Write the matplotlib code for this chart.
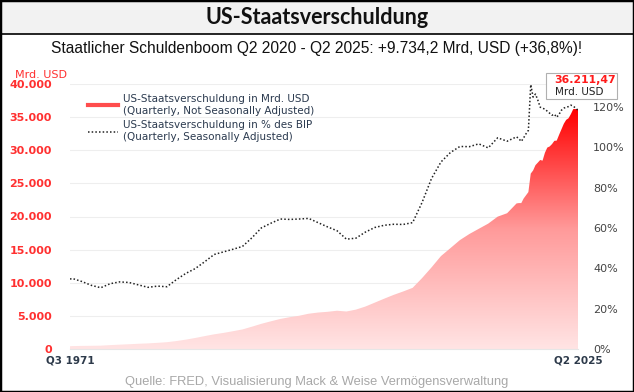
import numpy as np
import matplotlib.pyplot as plt
from matplotlib.colors import LinearSegmentedColormap
from matplotlib.lines import Line2D
from matplotlib.patches import Rectangle

# Zeitpunkte: Q3 1971, danach jeweils Q4 bis 2018, ab 2019 quartalsweise
periods = (["1971Q3"] + [f"{y}Q4" for y in range(1971, 2019)]
           + [f"{y}Q{q}" for y in range(2019, 2025) for q in range(1, 5)]
           + ["2025Q1", "2025Q2"])

# Staatsschulden in Mrd. USD
debt = [414, 437, 468, 484, 504, 587, 654, 718, 789, 845, 930,
        1028, 1197, 1411, 1663, 1945, 2214, 2431, 2684, 2953, 3365,
        3802, 4177, 4536, 4801, 5018, 5324, 5503, 5614, 5776, 5662,
        5943, 6405, 6998, 7596, 8170, 8680, 9229, 10700, 12311, 14025,
        15223, 16433, 17352, 18141, 18922, 19977, 20493, 21974,
        22028, 22023, 22719, 23201, 23686, 26477, 26946, 27748,
        28133, 28529, 28428, 29617, 30401, 30569, 30929, 31420,
        31458, 32332, 33167, 34001, 34587, 34832, 35465, 36218,
        36215, 36211.47]

# Schulden in % des BIP
pct = [34.7, 35.0, 33.5, 31.6, 30.4, 32.4, 33.3, 33.0, 31.8, 30.6, 31.2,
       30.9, 34.4, 37.5, 39.9, 43.3, 46.9, 48.2, 49.5, 50.9, 55.2,
       60.1, 62.4, 64.5, 64.3, 64.5, 64.8, 62.7, 60.6, 58.7, 54.5,
       55.0, 58.0, 60.3, 61.4, 61.9, 61.8, 62.7, 72.7, 84.6, 92.8,
       97.5, 100.5, 100.4, 101.8, 99.8, 104.8, 103.1, 105.3,
       104.3, 103.0, 104.8, 106.8, 108.5, 131.2, 125.0, 126.5,
       123.5, 120.0, 119.5, 119.0, 118.0, 117.0, 116.0, 116.5,
       115.0, 116.5, 118.5, 119.5, 120.0, 120.3, 121.0, 120.5,
       119.5, 118.5]

left_ticks = [0, 5000, 10000, 15000, 20000, 25000, 30000, 35000, 40000]
right_ticks = [0, 20, 40, 60, 80, 100, 120]
x_labels = ["Q3 1971", "Q2 2025"]

x = np.array([int(p[:4]) + (int(p[-1]) - 1) / 4 for p in periods])

W, H = 634, 392
fig = plt.figure(figsize=(W / 100, H / 100), dpi=100)

# Rahmen und Titelband
fig.add_artist(Rectangle((0, 1 - 34 / H), 1, 34 / H, transform=fig.transFigure,
                         facecolor="#f2f2f2", edgecolor="none"))
fig.add_artist(Line2D([0, 1], [1 - 34 / H] * 2, transform=fig.transFigure,
                      color="black", lw=1.2))
fig.add_artist(Rectangle((0, 0), 1, 1, transform=fig.transFigure,
                         fill=False, edgecolor="black", lw=2.5))
fig.text(0.5, 1 - 17 / H, "US-Staatsverschuldung", ha="center", va="center",
         family="Lato", weight="bold", fontsize=15.5, color="#111")
fig.text(0.5, 1 - 48 / H,
         "Staatlicher Schuldenboom Q2 2020 - Q2 2025: +9.734,2 Mrd, USD (+36,8%)!",
         ha="center", va="center", family="Liberation Sans", fontsize=11.2,
         color="#111")
fig.text(0.5, 1 - 382 / H,
         "Quelle: FRED, Visualisierung Mack & Weise Vermögensverwaltung",
         ha="center", va="center", family="Liberation Sans",
         fontsize=9.3, color="#a8a8a8")

ax = fig.add_axes([70 / W, 43 / H, 508 / W, 265 / H])
ax2 = ax.twinx()

# Fläche mit vertikalem Verlauf
poly = ax.fill_between(x, debt, color="none", lw=0)
cmap = LinearSegmentedColormap.from_list("rot", ["#ffe4e4", "#ff9a9a", "#ff0000"])
grad = np.linspace(0, 1, 256).reshape(-1, 1)
im = ax.imshow(grad, cmap=cmap, aspect="auto", origin="lower",
               extent=[x[0], x[-1], 0, max(debt)], zorder=1)
im.set_clip_path(poly.get_paths()[0], transform=ax.transData)

ax2.plot(x, pct, color="#222", lw=1.1, ls=(0, (1, 1.4)))

ax.set_xlim(x[0], x[-1])
ax.set_ylim(0, 40000)
ax2.set_ylim(0, 131.5)

ax.set_yticks(left_ticks)
ax.set_yticklabels([f"{v:,}".replace(",", ".") for v in left_ticks],
                   color="#ff3030", fontweight="bold", fontsize=8)
ax.set_xticks([x[0], x[-1]])
ax.set_xticklabels(x_labels, color="#2d3a4a", fontweight="bold", fontsize=7.5)
ax.tick_params(axis="y", length=0, pad=13)
ax.tick_params(axis="x", length=0, pad=5)
ax.grid(axis="y", color="#eeeeee", lw=0.8)
ax.set_axisbelow(True)

ax2.set_yticks(right_ticks)
ax2.set_yticklabels([f"{v}%" for v in right_ticks], color="#444", fontsize=8)
ax2.tick_params(axis="y", length=0, pad=11)

for a in (ax, ax2):
    for s in a.spines.values():
        s.set_visible(False)
ax.spines["bottom"].set_visible(True)
ax.spines["bottom"].set_color("#e6e6e6")

fig.text(15 / W, 1 - 75 / H, "Mrd. USD", color="#ff3030", fontsize=8,
         ha="left", va="center")

handles = [Line2D([], [], color="#ff4d4d", lw=3),
           Line2D([], [], color="#222", lw=1.1, ls=(0, (1, 1.4)))]
labels = ["US-Staatsverschuldung in Mrd. USD\n(Quarterly, Not Seasonally Adjusted)",
          "US-Staatsverschuldung in % des BIP\n(Quarterly, Seasonally Adjusted)"]
ax2.legend(handles, labels, loc="upper left", bbox_to_anchor=(0.035, 0.962),
           frameon=False, fontsize=7.5, handlelength=2.9, handletextpad=0.45,
           labelspacing=0.45, borderpad=0, borderaxespad=0, labelcolor="#2b3a4f")

# Wertbox oben rechts
fig.add_artist(Rectangle((546 / W, 1 - 99 / H), 71 / W, 26 / H,
                         transform=fig.transFigure, facecolor="white",
                         edgecolor="#b0b0b0", lw=0.8))
fig.text(585 / W, 1 - 80 / H, "36.211,47", color="#ff1a1a", fontweight="bold",
         fontsize=7.8, ha="center", va="center")
fig.text(555 / W, 1 - 92 / H, "Mrd. USD", color="#222", fontsize=7.5,
         ha="left", va="center")

fig.savefig("out.png", dpi=100)
